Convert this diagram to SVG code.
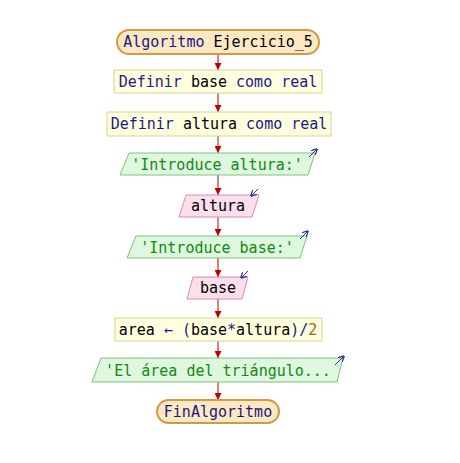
<svg xmlns="http://www.w3.org/2000/svg" width="460" height="463" viewBox="0 0 460 463">
  <defs>
    <marker id="arr" viewBox="0 0 10 10" refX="10" refY="5" markerWidth="7" markerHeight="7" orient="auto" markerUnits="userSpaceOnUse">
      <path d="M0,0 L10,5 L0,10 z" fill="#c00000"/>
    </marker>
    <marker id="io" viewBox="0 0 10 10" refX="9" refY="5" markerWidth="6" markerHeight="6" orient="auto" markerUnits="userSpaceOnUse">
      <path d="M0,0 L10,5 L0,10" fill="none" stroke="#2a2aa0" stroke-width="2"/>
    </marker>
    <style>
      text { font-family: "DejaVu Sans Mono", "Liberation Mono", monospace; font-size: 15px; text-anchor: middle; }
      .term { fill: #fce8c2; stroke: #d39a45; stroke-width: 2; }
      .proc { fill: #ffffe0; stroke: #d8d48c; stroke-width: 1; }
      .out { fill: #def7de; stroke: #7cc47c; stroke-width: 1; }
      .in { fill: #fbdfec; stroke: #d88aae; stroke-width: 1; }
      .kw { fill: #1a1a80; }
      .id { fill: #000000; }
      .str { fill: #108a10; }
      .num { fill: #a06a10; }
      .conn line { stroke: #c00000; stroke-width: 1; marker-end: url(#arr); }
      .icon { stroke: #2a2aa0; stroke-width: 1; marker-end: url(#io); }
    </style>
  </defs>

  <!-- connectors -->
  <g id="connectors" class="conn">
    <line x1="218" y1="54" x2="218" y2="70"/>
    <line x1="218" y1="93" x2="218" y2="112"/>
    <line x1="218" y1="136" x2="218" y2="153"/>
    <line x1="218" y1="175" x2="218" y2="195"/>
    <line x1="218" y1="217" x2="218" y2="236"/>
    <line x1="218" y1="258" x2="218" y2="277"/>
    <line x1="218" y1="299" x2="218" y2="318"/>
    <line x1="218" y1="341" x2="218" y2="358"/>
    <line x1="218" y1="382" x2="218" y2="400"/>
  </g>

  <g id="start">
    <rect class="term" x="117" y="30" width="202" height="24" rx="12"/>
    <text x="218" y="47"><tspan class="kw">Algoritmo</tspan> <tspan class="id">Ejercicio_5</tspan></text>
  </g>

  <g id="def-base">
    <rect class="proc" x="114" y="70" width="208" height="23"/>
    <text x="218" y="87"><tspan class="kw">Definir</tspan> <tspan class="id">base</tspan> <tspan class="kw">como real</tspan></text>
  </g>

  <g id="def-altura">
    <rect class="proc" x="107" y="112" width="224" height="24"/>
    <text x="219" y="129"><tspan class="kw">Definir</tspan> <tspan class="id">altura</tspan> <tspan class="kw">como real</tspan></text>
  </g>

  <g id="out-altura">
    <polygon class="out" points="129,153 315,153 308,175 120,175"/>
    <text class="str" x="217" y="170">'Introduce altura:'</text>
    <line class="icon" x1="309" y1="157" x2="317" y2="149"/>
  </g>

  <g id="in-altura">
    <polygon class="in" points="186,195 259,195 252,217 179,217"/>
    <text class="id" x="218" y="211">altura</text>
    <line class="icon" x1="258" y1="189" x2="251" y2="196"/>
  </g>

  <g id="out-base">
    <polygon class="out" points="136,236 307,236 300,258 127,258"/>
    <text class="str" x="217" y="253">'Introduce base:'</text>
    <line class="icon" x1="300" y1="239" x2="308" y2="231"/>
  </g>

  <g id="in-base">
    <polygon class="in" points="193,277 248,277 242,299 187,299"/>
    <text class="id" x="218" y="293">base</text>
    <line class="icon" x1="248" y1="271" x2="241" y2="278"/>
  </g>

  <g id="assign">
    <rect class="proc" x="115" y="318" width="207" height="23"/>
    <text x="218" y="335"><tspan class="id">area</tspan> <tspan class="kw">←</tspan> <tspan class="kw">(</tspan><tspan class="id">base</tspan><tspan class="kw">*</tspan><tspan class="id">altura</tspan><tspan class="kw">)/</tspan><tspan class="num">2</tspan></text>
  </g>

  <g id="out-area">
    <polygon class="out" points="101,358 343,358 337,382 92,382"/>
    <text class="str" x="218" y="376">'El área del triángulo...</text>
    <line class="icon" x1="335" y1="365" x2="344" y2="356"/>
  </g>

  <g id="end">
    <rect class="term" x="157" y="400" width="122" height="23" rx="11.5"/>
    <text class="kw" x="218" y="417">FinAlgoritmo</text>
  </g>
</svg>
